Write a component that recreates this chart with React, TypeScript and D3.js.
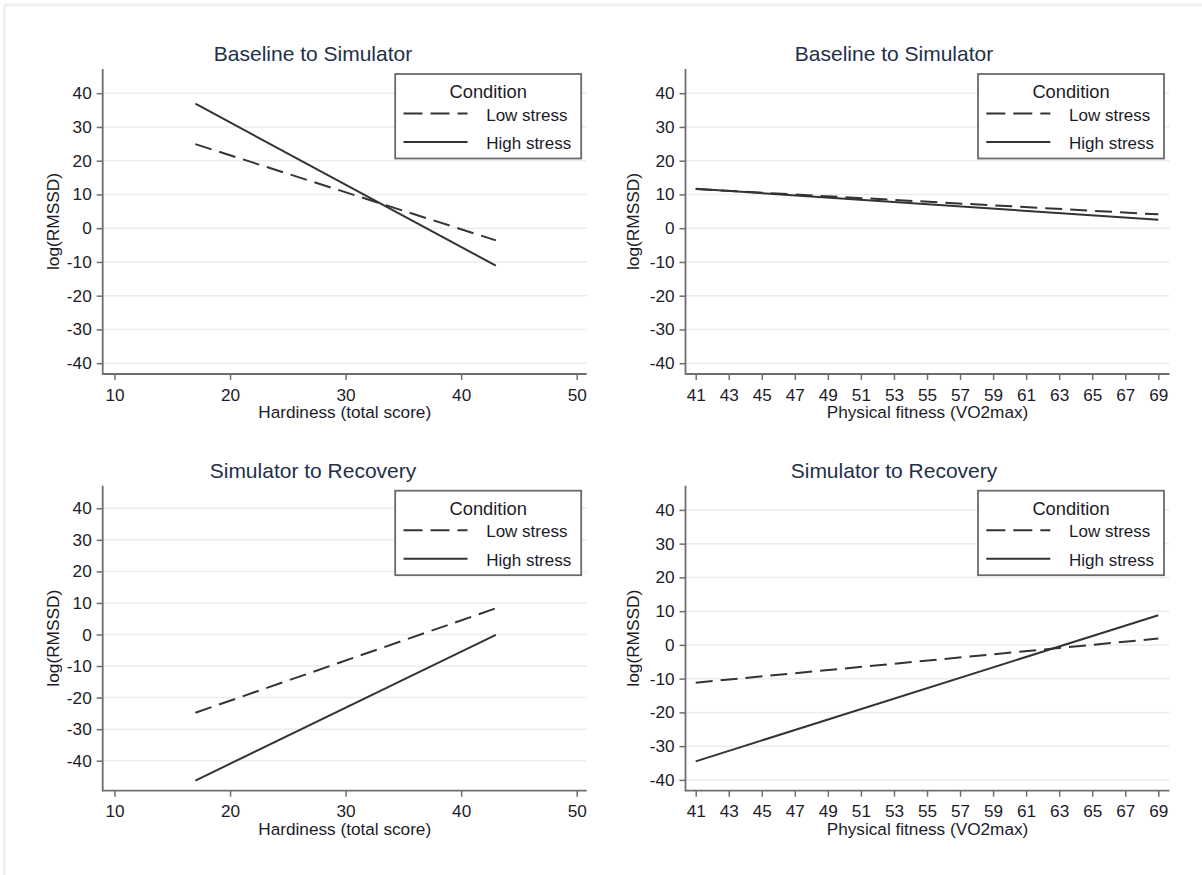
import React, { useRef, useEffect } from 'react';
import * as d3 from 'd3';

// x values where the fitted lines start and end
const hardiness = [17, 43];
const fitness = [41, 69];

const hardinessTicks = [10, 20, 30, 40, 50];
const fitnessTicks = [41, 43, 45, 47, 49, 51, 53, 55, 57, 59, 61, 63, 65, 67, 69];
const yTicks = [40, 30, 20, 10, 0, -10, -20, -30, -40];

// predicted log(RMSSD)
const bsHardLow = [24.9, -3.6];
const bsHardHigh = [36.9, -11.1];
const bsFitLow = [11.6, 4.1];
const bsFitHigh = [11.7, 2.5];
const srHardLow = [-24.8, 8.3];
const srHardHigh = [-46.3, -0.1];
const srFitLow = [-11.2, 1.9];
const srFitHigh = [-34.5, 8.8];

const titles = ['Baseline to Simulator', 'Simulator to Recovery'];
const xTitles = ['Hardiness (total score)', 'Physical fitness (VO2max)'];
const yTitle = 'log(RMSSD)';
const legendTitle = 'Condition';
const legendLabels = ['Low stress', 'High stress'];

const FONT = '"Liberation Sans", Arial, sans-serif';
const W = 1202, H = 875;

const App = () => {
  const ref = useRef(null);

  useEffect(() => {
    const svg = d3.select(ref.current);
    svg.selectAll('*').remove();

    // light outer frame (top and left edges are visible)
    svg.append('line').attr('x1', 4.5).attr('x2', W).attr('y1', 5).attr('y2', 5)
      .attr('stroke', '#edf0f3').attr('stroke-width', 3);
    svg.append('line').attr('x1', 4.5).attr('x2', 4.5).attr('y1', 5).attr('y2', H)
      .attr('stroke', '#edf0f3').attr('stroke-width', 3);

    const panels = [
      { t: 0, xs: hardiness, xt: hardinessTicks, xlab: 0, low: bsHardLow, high: bsHardHigh,
        left: 102.7, top: 69, xr: [114.5, 576.7], yr: [363.2, 93.2], titleX: 313, ylabX: 59 },
      { t: 0, xs: fitness, xt: fitnessTicks, xlab: 1, low: bsFitLow, high: bsFitHigh,
        left: 685.5, top: 69, xr: [695.7, 1158.3], yr: [363.2, 93.2], titleX: 894, ylabX: 639 },
      { t: 1, xs: hardiness, xt: hardinessTicks, xlab: 0, low: srHardLow, high: srHardHigh,
        left: 102.7, top: 485.7, xr: [114.5, 576.7], yr: [760.7, 508.3], titleX: 313, ylabX: 59 },
      { t: 1, xs: fitness, xt: fitnessTicks, xlab: 1, low: srFitLow, high: srFitHigh,
        left: 685.5, top: 485.7, xr: [695.7, 1158.3], yr: [779.9, 509.9], titleX: 894, ylabX: 639 },
    ];

    const plotW = 484, plotH = 305;

    panels.forEach(p => {
      const x = d3.scaleLinear().domain([p.xt[0], p.xt[p.xt.length - 1]]).range(p.xr);
      const y = d3.scaleLinear().domain([-40, 40]).range(p.yr);
      const right = p.left + plotW;
      const bottom = p.top + plotH;
      const g = svg.append('g');

      // title
      g.append('text')
        .attr('x', p.titleX).attr('y', p.top - 8)
        .attr('text-anchor', 'middle')
        .attr('font-family', FONT).attr('font-size', 21)
        .attr('fill', '#22304a')
        .text(titles[p.t]);

      // gridlines
      g.selectAll('.grid').data(yTicks).enter().append('line')
        .attr('x1', p.left).attr('x2', right)
        .attr('y1', d => y(d)).attr('y2', d => y(d))
        .attr('stroke', '#e7eef1').attr('stroke-width', 1.5);

      // y axis
      const ya = g.append('g').attr('transform', `translate(${p.left},0)`)
        .call(d3.axisLeft(y).tickValues(yTicks).tickSize(6).tickPadding(5).tickFormat(d => String(d)));
      ya.select('.domain').remove();

      // x axis
      const xa = g.append('g').attr('transform', `translate(0,${bottom})`)
        .call(d3.axisBottom(x).tickValues(p.xt).tickSize(6).tickPadding(8.5).tickFormat(d => String(d)));
      xa.select('.domain').remove();

      [ya, xa].forEach(a => {
        a.selectAll('line').attr('stroke', '#6e6e6e').attr('stroke-width', 1.5);
        a.selectAll('text').attr('font-family', FONT).attr('font-size', 17.2).attr('fill', '#1c1c28');
      });

      // axis lines
      g.append('line').attr('x1', p.left).attr('x2', p.left).attr('y1', p.top).attr('y2', bottom + 0.7)
        .attr('stroke', '#6e6e6e').attr('stroke-width', 1.8);
      g.append('line').attr('x1', p.left).attr('x2', right).attr('y1', bottom).attr('y2', bottom)
        .attr('stroke', '#6e6e6e').attr('stroke-width', 1.8);

      // axis titles
      g.append('text')
        .attr('x', (p.left + right) / 2).attr('y', bottom + 43.8)
        .attr('text-anchor', 'middle')
        .attr('font-family', FONT).attr('font-size', 17.2).attr('fill', '#1c1c28')
        .text(xTitles[p.xlab]);
      g.append('text')
        .attr('transform', `translate(${p.ylabX},${(p.top + bottom) / 2}) rotate(-90)`)
        .attr('text-anchor', 'middle')
        .attr('font-family', FONT).attr('font-size', 17.3).attr('fill', '#1c1c28')
        .text(yTitle);

      // fitted lines
      const line = d3.line<number>().x((d, i) => x(p.xs[i])).y(d => y(d));
      g.append('path').attr('d', line(p.low))
        .attr('fill', 'none').attr('stroke', '#333').attr('stroke-width', 2)
        .attr('stroke-dasharray', '17,8');
      g.append('path').attr('d', line(p.high))
        .attr('fill', 'none').attr('stroke', '#333').attr('stroke-width', 2);

      // legend
      const lx = p.left + 292.5, ly = p.top + 5;
      const lg = g.append('g').attr('transform', `translate(${lx},${ly})`);
      lg.append('rect').attr('x', 0).attr('y', 0).attr('width', 186).attr('height', 84.5)
        .attr('fill', '#fff').attr('stroke', '#6a6a6a').attr('stroke-width', 1.8);
      lg.append('text').attr('x', 93).attr('y', 24.3).attr('text-anchor', 'middle')
        .attr('font-family', FONT).attr('font-size', 18.3).attr('fill', '#1c1c28')
        .text(legendTitle);
      legendLabels.forEach((lab, i) => {
        const yy = 39.5 + i * 28.5;
        lg.append('line').attr('x1', 8.3).attr('x2', 72.3).attr('y1', yy).attr('y2', yy)
          .attr('stroke', '#333').attr('stroke-width', 2)
          .attr('stroke-dasharray', i === 0 ? '19,8' : null);
        lg.append('text').attr('x', 91).attr('y', yy + 7.2)
          .attr('font-family', FONT).attr('font-size', 17).attr('fill', '#1c1c28')
          .text(lab);
      });
    });
  });

  return (
    <div style={{ position: 'absolute', left: 0, top: 0 }}>
      <svg ref={ref} width={W} height={H} style={{ display: 'block', background: '#fff' }}></svg>
    </div>
  );
};

export default App;
